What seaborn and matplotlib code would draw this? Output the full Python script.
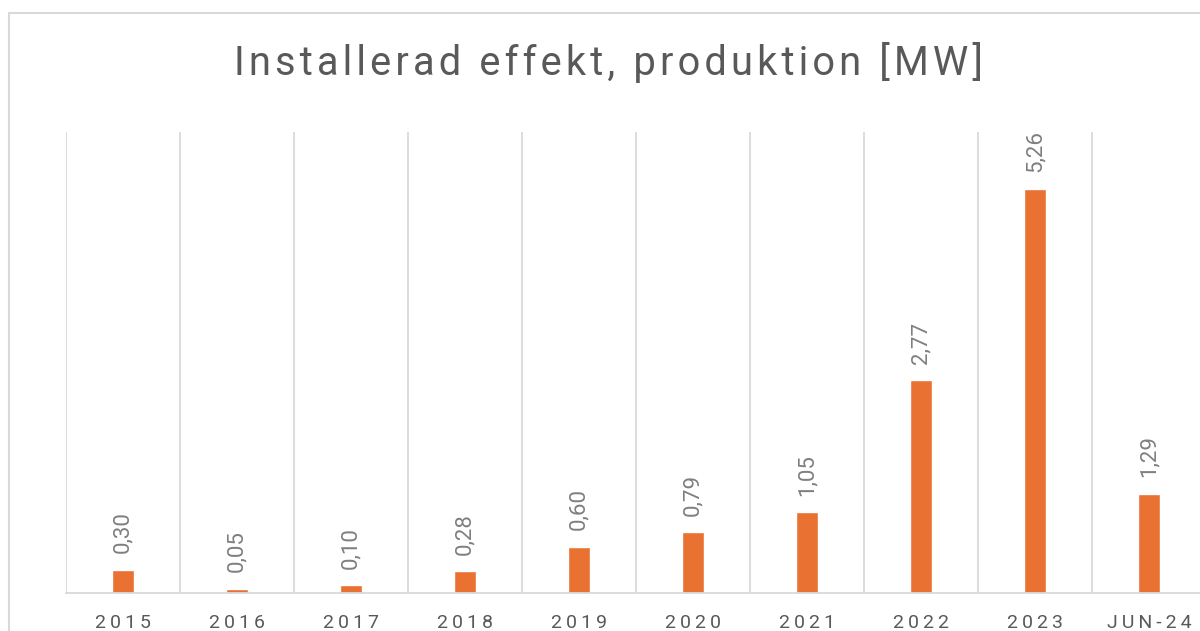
import matplotlib
matplotlib.use("Agg")
import matplotlib.pyplot as plt
import seaborn as sns
import pandas as pd
from matplotlib.patches import Rectangle

categories = ["2015", "2016", "2017", "2018", "2019", "2020", "2021", "2022", "2023", "JUN-24"]
values = [0.30, 0.05, 0.10, 0.28, 0.60, 0.79, 1.05, 2.77, 5.26, 1.29]

df = pd.DataFrame({"period": categories, "mw": values})

sns.set_theme(style="white")
plt.rcParams["font.family"] = ["Roboto", "DejaVu Sans"]

fig = plt.figure(figsize=(12, 6.31), dpi=100)
ax = fig.add_axes([66 / 1200, 38 / 631, 1140 / 1200, 461 / 631])

sns.barplot(data=df, x="period", y="mw", color="#E97132", width=0.19,
            saturation=1, ax=ax)

ax.set_ylim(0, 6)
ax.set_xlim(-0.5, len(categories) - 0.5)
ax.set_yticks([])
ax.set_xlabel("")
ax.set_ylabel("")

# vertical category separators
ax.set_xticks([i - 0.5 for i in range(len(categories) + 1)], minor=True)
ax.grid(True, which="minor", axis="x", color="#d9d9d9", linewidth=1.3)
ax.grid(False, which="major")
ax.tick_params(axis="x", which="both", length=0)

def spaced(s, sp="\u2009"):
    return sp.join(list(s))

ax.set_xticks(range(len(categories)))
ax.set_xticklabels([spaced(c, "\u2009") for c in categories], fontsize=14, color="#595959")
ax.tick_params(axis="x", pad=15)

for sp in ["left", "right", "top"]:
    ax.spines[sp].set_visible(False)
ax.spines["bottom"].set_color("#d9d9d9")
ax.spines["bottom"].set_linewidth(1.3)

for i, v in enumerate(values):
    ax.annotate(f"{v:.2f}".replace(".", ","), (i, v), xytext=(0, 12),
                textcoords="offset points", rotation=90, ha="center", va="bottom",
                fontsize=16, color="#7f7f7f")

fig.text(608 / 1200, 1 - 62 / 631, spaced("Installerad effekt, produktion [MW]", "\u200a"),
         ha="center", va="center", fontsize=28.7, color="#595959")

fig.patches.append(Rectangle((9 / 1200, -0.1), 1.2, (1 - 13 / 631) + 0.1,
                             transform=fig.transFigure, fill=False,
                             edgecolor="#d9d9d9", linewidth=1.5))

fig.savefig("out.png", dpi=100)
